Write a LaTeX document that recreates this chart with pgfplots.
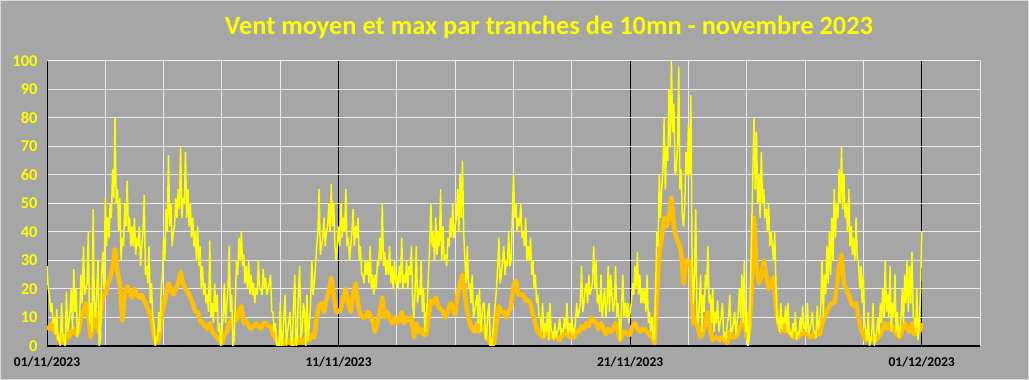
\documentclass[border=0pt]{standalone}
\usepackage{fontspec}
\setmainfont{Carlito}
\usepackage{pgfplots}
\pgfplotsset{compat=1.18}
\usepackage{pgfplotstable}
\definecolor{bg}{HTML}{A6A6A6}
\definecolor{cmax}{HTML}{FFFF00}
\definecolor{cmean}{HTML}{FFC000}
% hourly readings of the max wind, from 01/11/2023 00:00 (one line per day)
\pgfplotstableread[row sep=\\]{
mx\\
28\\ 20\\ 18\\ 12\\ 15\\ 8\\ 10\\ 4\\ 13\\ 2\\ 3\\ 0\\ 15\\ 4\\ 2\\ 0\\ 19\\ 5\\ 8\\ 12\\ 20\\ 6\\ 27\\ 12\\
20\\ 3\\ 6\\ 12\\ 25\\ 15\\ 35\\ 18\\ 20\\ 22\\ 40\\ 8\\ 15\\ 5\\ 48\\ 12\\ 10\\ 20\\ 30\\ 0\\ 2\\ 25\\ 33\\ 20\\
52\\ 35\\ 45\\ 38\\ 50\\ 45\\ 62\\ 52\\ 80\\ 50\\ 55\\ 40\\ 52\\ 30\\ 38\\ 35\\ 50\\ 42\\ 58\\ 40\\ 45\\ 35\\ 42\\ 35\\
45\\ 32\\ 38\\ 35\\ 42\\ 28\\ 35\\ 40\\ 53\\ 25\\ 28\\ 22\\ 35\\ 15\\ 22\\ 10\\ 8\\ 0\\ 3\\ 2\\ 12\\ 5\\ 20\\ 25\\
38\\ 30\\ 48\\ 40\\ 67\\ 42\\ 50\\ 35\\ 40\\ 42\\ 52\\ 45\\ 55\\ 48\\ 70\\ 45\\ 52\\ 50\\ 68\\ 45\\ 55\\ 42\\ 50\\ 38\\
45\\ 35\\ 40\\ 30\\ 42\\ 28\\ 35\\ 20\\ 28\\ 18\\ 22\\ 15\\ 18\\ 12\\ 37\\ 10\\ 15\\ 8\\ 22\\ 12\\ 18\\ 5\\ 8\\ 0\\
5\\ 10\\ 22\\ 8\\ 15\\ 20\\ 35\\ 12\\ 18\\ 0\\ 2\\ 15\\ 30\\ 25\\ 38\\ 30\\ 40\\ 28\\ 32\\ 22\\ 28\\ 20\\ 30\\ 18\\
25\\ 18\\ 22\\ 15\\ 20\\ 18\\ 30\\ 20\\ 20\\ 18\\ 27\\ 20\\ 24\\ 18\\ 20\\ 22\\ 25\\ 12\\ 12\\ 5\\ 8\\ 0\\ 1\\ 0\\
15\\ 0\\ 2\\ 10\\ 18\\ 0\\ 5\\ 8\\ 12\\ 2\\ 0\\ 15\\ 25\\ 0\\ 3\\ 20\\ 28\\ 3\\ 5\\ 15\\ 12\\ 0\\ 18\\ 2\\
8\\ 15\\ 30\\ 18\\ 22\\ 28\\ 35\\ 40\\ 55\\ 32\\ 35\\ 38\\ 45\\ 35\\ 40\\ 42\\ 50\\ 40\\ 57\\ 42\\ 50\\ 35\\ 30\\ 35\\
42\\ 35\\ 50\\ 38\\ 45\\ 40\\ 55\\ 35\\ 38\\ 30\\ 35\\ 40\\ 48\\ 35\\ 42\\ 38\\ 45\\ 30\\ 35\\ 25\\ 25\\ 22\\ 30\\ 25\\
30\\ 22\\ 35\\ 20\\ 25\\ 18\\ 25\\ 20\\ 30\\ 28\\ 38\\ 30\\ 50\\ 28\\ 33\\ 25\\ 30\\ 25\\ 35\\ 22\\ 28\\ 20\\ 30\\ 22\\
25\\ 20\\ 28\\ 22\\ 38\\ 20\\ 25\\ 22\\ 30\\ 20\\ 28\\ 25\\ 35\\ 15\\ 10\\ 20\\ 35\\ 15\\ 20\\ 18\\ 30\\ 12\\ 20\\ 5\\
10\\ 15\\ 25\\ 35\\ 50\\ 35\\ 40\\ 30\\ 45\\ 32\\ 40\\ 35\\ 55\\ 30\\ 42\\ 30\\ 32\\ 28\\ 38\\ 35\\ 45\\ 38\\ 50\\ 38\\
42\\ 45\\ 55\\ 40\\ 60\\ 45\\ 65\\ 40\\ 30\\ 22\\ 35\\ 20\\ 22\\ 15\\ 25\\ 10\\ 12\\ 15\\ 18\\ 8\\ 20\\ 5\\ 10\\ 15\\
15\\ 2\\ 5\\ 12\\ 15\\ 0\\ 0\\ 5\\ 10\\ 15\\ 20\\ 28\\ 38\\ 22\\ 25\\ 30\\ 35\\ 25\\ 30\\ 28\\ 40\\ 28\\ 30\\ 45\\
60\\ 45\\ 50\\ 40\\ 45\\ 42\\ 50\\ 38\\ 40\\ 35\\ 45\\ 30\\ 35\\ 30\\ 38\\ 25\\ 30\\ 20\\ 25\\ 15\\ 18\\ 10\\ 10\\ 5\\
15\\ 3\\ 8\\ 5\\ 12\\ 2\\ 15\\ 5\\ 5\\ 2\\ 8\\ 3\\ 5\\ 6\\ 10\\ 4\\ 6\\ 5\\ 10\\ 6\\ 15\\ 4\\ 8\\ 5\\
10\\ 4\\ 5\\ 8\\ 15\\ 10\\ 12\\ 15\\ 28\\ 12\\ 15\\ 20\\ 22\\ 15\\ 25\\ 18\\ 20\\ 22\\ 35\\ 20\\ 30\\ 15\\ 18\\ 12\\
25\\ 10\\ 15\\ 20\\ 10\\ 15\\ 28\\ 12\\ 25\\ 18\\ 12\\ 15\\ 28\\ 10\\ 15\\ 8\\ 2\\ 15\\ 25\\ 10\\ 15\\ 10\\ 15\\ 8\\
12\\ 15\\ 22\\ 18\\ 28\\ 20\\ 33\\ 18\\ 25\\ 15\\ 20\\ 15\\ 20\\ 12\\ 25\\ 8\\ 12\\ 5\\ 10\\ 3\\ 2\\ 20\\ 40\\ 35\\
60\\ 45\\ 55\\ 62\\ 80\\ 55\\ 70\\ 65\\ 90\\ 70\\ 100\\ 75\\ 85\\ 60\\ 62\\ 70\\ 98\\ 55\\ 62\\ 45\\ 42\\ 50\\ 68\\ 60\\
78\\ 60\\ 88\\ 30\\ 15\\ 25\\ 48\\ 10\\ 8\\ 15\\ 25\\ 5\\ 18\\ 12\\ 25\\ 20\\ 35\\ 15\\ 18\\ 8\\ 20\\ 5\\ 12\\ 8\\
16\\ 5\\ 8\\ 10\\ 15\\ 3\\ 5\\ 2\\ 8\\ 10\\ 18\\ 5\\ 5\\ 8\\ 12\\ 4\\ 8\\ 12\\ 20\\ 10\\ 25\\ 8\\ 30\\ 5\\
12\\ 0\\ 2\\ 20\\ 40\\ 60\\ 80\\ 55\\ 75\\ 50\\ 60\\ 45\\ 68\\ 50\\ 55\\ 45\\ 48\\ 40\\ 50\\ 35\\ 40\\ 35\\ 30\\ 40\\
22\\ 8\\ 10\\ 5\\ 15\\ 6\\ 10\\ 8\\ 14\\ 5\\ 15\\ 4\\ 5\\ 3\\ 8\\ 5\\ 12\\ 2\\ 5\\ 4\\ 10\\ 5\\ 14\\ 6\\
8\\ 5\\ 15\\ 4\\ 6\\ 8\\ 12\\ 5\\ 5\\ 3\\ 14\\ 6\\ 8\\ 15\\ 30\\ 10\\ 25\\ 18\\ 35\\ 22\\ 40\\ 25\\ 45\\ 30\\
55\\ 38\\ 50\\ 45\\ 62\\ 50\\ 70\\ 48\\ 60\\ 45\\ 50\\ 40\\ 55\\ 35\\ 42\\ 32\\ 38\\ 30\\ 45\\ 30\\ 30\\ 20\\ 28\\ 15\\
25\\ 8\\ 5\\ 2\\ 12\\ 0\\ 2\\ 5\\ 15\\ 0\\ 3\\ 5\\ 10\\ 4\\ 15\\ 8\\ 20\\ 10\\ 30\\ 12\\ 18\\ 10\\ 28\\ 5\\
15\\ 10\\ 25\\ 5\\ 12\\ 3\\ 5\\ 10\\ 20\\ 8\\ 25\\ 15\\ 30\\ 12\\ 28\\ 15\\ 33\\ 10\\ 10\\ 5\\ 20\\ 2\\ 8\\ 18\\
40\\
}\windmax
% 2-hourly readings of the mean wind (one line per day)
\pgfplotstableread[row sep=\\]{
mn\\
7\\ 6\\ 8\\ 5\\ 5\\ 2\\ 3\\ 1\\ 4\\ 3\\ 5\\ 6\\
4\\ 5\\ 10\\ 12\\ 15\\ 10\\ 3\\ 8\\ 12\\ 5\\ 10\\ 18\\
18\\ 22\\ 24\\ 28\\ 34\\ 26\\ 22\\ 9\\ 18\\ 21\\ 19\\ 17\\
20\\ 18\\ 17\\ 18\\ 16\\ 14\\ 12\\ 10\\ 4\\ 1\\ 2\\ 10\\
14\\ 18\\ 22\\ 20\\ 18\\ 20\\ 22\\ 26\\ 22\\ 20\\ 19\\ 17\\
15\\ 12\\ 12\\ 9\\ 8\\ 7\\ 6\\ 8\\ 5\\ 4\\ 3\\ 2\\
1\\ 4\\ 5\\ 8\\ 9\\ 10\\ 9\\ 12\\ 14\\ 8\\ 9\\ 7\\
6\\ 7\\ 8\\ 7\\ 6\\ 8\\ 8\\ 7\\ 7\\ 4\\ 3\\ 1\\
1\\ 0\\ 2\\ 1\\ 2\\ 0\\ 2\\ 1\\ 3\\ 1\\ 2\\ 3\\
2\\ 4\\ 3\\ 10\\ 14\\ 15\\ 12\\ 16\\ 19\\ 24\\ 18\\ 12\\
12\\ 13\\ 17\\ 20\\ 15\\ 12\\ 18\\ 22\\ 15\\ 11\\ 10\\ 10\\
12\\ 11\\ 9\\ 5\\ 8\\ 12\\ 17\\ 10\\ 12\\ 10\\ 8\\ 10\\
8\\ 9\\ 12\\ 8\\ 10\\ 9\\ 10\\ 3\\ 8\\ 5\\ 6\\ 4\\
4\\ 10\\ 16\\ 15\\ 17\\ 14\\ 13\\ 12\\ 10\\ 12\\ 15\\ 14\\
11\\ 18\\ 22\\ 25\\ 18\\ 12\\ 8\\ 6\\ 5\\ 8\\ 5\\ 7\\
6\\ 3\\ 2\\ 0\\ 1\\ 8\\ 14\\ 12\\ 12\\ 10\\ 12\\ 14\\
21\\ 23\\ 18\\ 18\\ 18\\ 16\\ 16\\ 15\\ 11\\ 8\\ 5\\ 4\\
3\\ 4\\ 5\\ 4\\ 3\\ 4\\ 3\\ 2\\ 4\\ 4\\ 5\\ 3\\
4\\ 3\\ 5\\ 5\\ 7\\ 6\\ 8\\ 7\\ 10\\ 9\\ 8\\ 6\\
8\\ 6\\ 4\\ 6\\ 5\\ 6\\ 8\\ 5\\ 2\\ 5\\ 5\\ 4\\
4\\ 7\\ 8\\ 6\\ 5\\ 6\\ 6\\ 5\\ 4\\ 3\\ 1\\ 18\\
32\\ 38\\ 45\\ 42\\ 45\\ 52\\ 42\\ 38\\ 36\\ 33\\ 22\\ 30\\
30\\ 28\\ 8\\ 10\\ 6\\ 3\\ 5\\ 8\\ 12\\ 5\\ 2\\ 3\\
3\\ 2\\ 3\\ 2\\ 1\\ 5\\ 3\\ 3\\ 4\\ 6\\ 8\\ 10\\
3\\ 5\\ 20\\ 45\\ 28\\ 22\\ 24\\ 30\\ 25\\ 20\\ 22\\ 24\\
14\\ 8\\ 5\\ 8\\ 5\\ 6\\ 5\\ 3\\ 4\\ 3\\ 4\\ 5\\
4\\ 5\\ 3\\ 4\\ 3\\ 5\\ 4\\ 8\\ 10\\ 12\\ 14\\ 15\\
15\\ 20\\ 28\\ 32\\ 22\\ 20\\ 18\\ 15\\ 14\\ 15\\ 10\\ 6\\
4\\ 2\\ 3\\ 2\\ 3\\ 2\\ 3\\ 4\\ 6\\ 8\\ 6\\ 8\\
7\\ 5\\ 4\\ 3\\ 6\\ 8\\ 6\\ 5\\ 8\\ 4\\ 6\\ 5\\
8\\
}\windmean

\begin{document}
\begin{tikzpicture}
\fill[bg] (0bp,0bp) rectangle (1029bp,380bp);
\draw[white!85!black, line width=1bp] (0.5bp,0.5bp) rectangle (1028.5bp,379.5bp);
\useasboundingbox (0bp,0bp) rectangle (1029bp,380bp);
\node[font=\bfseries\fontsize{26.5}{30}\selectfont, text=cmax] at (549bp,353bp) {Vent moyen et max par tranches de 10mn - novembre 2023};
\begin{axis}[
 at={(47bp,34bp)}, anchor=south west, scale only axis,
 width=933bp, height=285bp,
 xmin=0, xmax=32, ymin=0, ymax=100,
 xtick={0,10,20,30},
 xticklabels={01/11/2023,11/11/2023,21/11/2023,01/12/2023},
 minor xtick={2,4,6,8,12,14,16,18,22,24,26,28,32},
 ytick={0,10,...,100},
 xmajorgrids, xminorgrids, ymajorgrids,
 major x grid style={black, line width=1bp},
 minor x grid style={white!92!black, line width=1bp},
 major y grid style={white!92!black, line width=1bp},
 axis x line=bottom, axis y line=left,
 x axis line style={-, black, line width=2.5bp},
 y axis line style={-, black, line width=1bp},
 major tick length=0pt, minor tick length=0pt,
 xticklabel style={font=\bfseries\fontsize{13.5}{15}\selectfont, text=black, yshift=-8bp},
 yticklabel style={font=\bfseries\fontsize{16.5}{18}\selectfont, text=cmax, xshift=-6bp},
 /pgf/number format/assume math mode=true,
]
\addplot[cmean, line width=4.5bp, line join=round] table[x expr=\coordindex/12, y=mn] {\windmean};
\addplot[cmax, line width=1.5bp, line join=bevel] table[x expr=\coordindex/24, y=mx] {\windmax};
\end{axis}
\end{tikzpicture}
\end{document}
